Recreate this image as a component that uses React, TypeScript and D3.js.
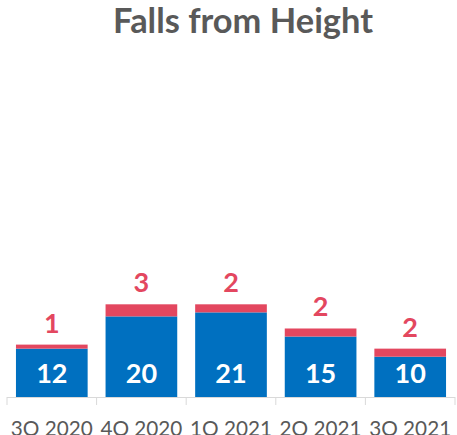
import React from "react";
import * as d3 from "d3";

// quarters + the two stacked series
const quarters = ["3Q 2020", "4Q 2020", "1Q 2021", "2Q 2021", "3Q 2021"];
const baseCounts = [12, 20, 21, 15, 10];
const extraCounts = [1, 3, 2, 2, 2];

const W = 457;
const H = 435;
const axisY = 397;
const font = "Lato, 'Open Sans', sans-serif";

const App = () => {
  const x = d3.scaleBand<string>()
    .domain(quarters)
    .range([7, 455])
    .paddingInner(0.2)
    .paddingOuter(0.1);

  // about 4 px per incident
  const y = d3.scaleLinear().domain([0, 80]).range([axisY, axisY - 80 * 4.03]);

  const step = x.step();
  const ticks = d3.range(quarters.length + 1).map((i) => 7 + i * step);

  return (
    <svg width={W} height={H} style={{ position: "absolute", left: 0, top: 0, background: "#fff" }}>
      <text x={243} y={33} textAnchor="middle" fontFamily={font} fontWeight={700}
        fontSize={34} fill="#595959" textLength={260} lengthAdjust="spacingAndGlyphs">
        Falls from Height
      </text>

      {quarters.map((q, i) => {
        const bx = x(q)!;
        const bw = x.bandwidth();
        const blueTop = y(baseCounts[i]);
        const redTop = y(baseCounts[i] + extraCounts[i]);
        return (
          <g key={q}>
            <rect x={bx} y={blueTop} width={bw} height={axisY - blueTop} fill="#0070C0" />
            <rect x={bx} y={redTop} width={bw} height={blueTop - redTop} fill="#E3475F" />
            <text x={bx + bw / 2} y={383} textAnchor="middle" fontFamily={font}
              fontWeight={700} fontSize={27} fill="#fff">
              {baseCounts[i]}
            </text>
            <text x={bx + bw / 2} y={redTop - 12} textAnchor="middle" fontFamily={font}
              fontWeight={700} fontSize={27} fill="#E3475F">
              {extraCounts[i]}
            </text>
            <text x={bx + bw / 2} y={436} textAnchor="middle" fontFamily={font}
              fontSize={21.5} fill="#595959" textLength={82} lengthAdjust="spacingAndGlyphs">
              {q}
            </text>
          </g>
        );
      })}

      <line x1={7} x2={455} y1={axisY + 0.5} y2={axisY + 0.5} stroke="#d9d9d9" strokeWidth={1} />
      {ticks.map((t) => (
        <line key={t} x1={t} x2={t} y1={axisY} y2={axisY + 8} stroke="#d9d9d9" strokeWidth={1} />
      ))}
    </svg>
  );
};

export default App;
